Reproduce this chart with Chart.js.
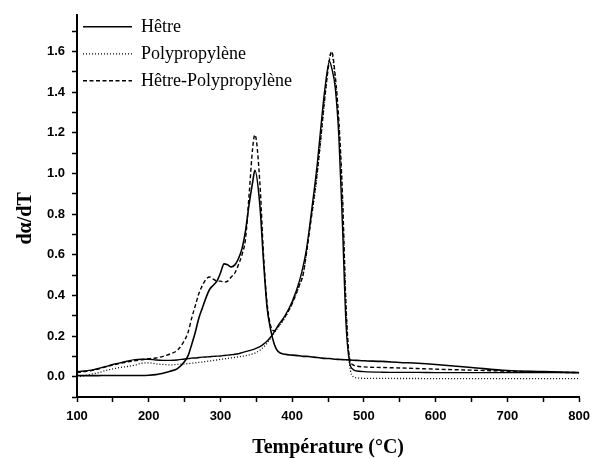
<!DOCTYPE html>
<html lang="fr">
<head>
<meta charset="utf-8">
<title>dα/dT</title>
<script src="https://cdn.jsdelivr.net/npm/chart.js@4.4.1/dist/chart.umd.min.js"></script>
<style>
  html, body { margin: 0; padding: 0; background: #fff; }
  #cadre { width: 597px; height: 458px; position: relative; }
</style>
</head>
<body>
<div id="cadre"><canvas id="mon-graphique"></canvas></div>
<script>
// Températures (°C)
const temperatures = [
  100, 110, 120, 130, 140, 150, 160, 170, 180, 190,
  200, 210, 220, 230, 240, 250, 255, 260, 265, 270,
  275, 280, 285, 290, 295, 300, 305, 310, 315, 320,
  325, 330, 335, 340, 345, 348, 355, 360, 365, 370,
  375, 380, 390, 400, 410, 415, 420, 425, 430, 435,
  440, 445, 452, 455, 460, 465, 470, 475, 480, 485,
  490, 500, 525, 550, 575, 600, 650, 700, 750, 800
];

const hetre = [
  0.005, 0.005, 0.005, 0.005, 0.006, 0.006, 0.006, 0.006, 0.006, 0.006,
  0.007, 0.01, 0.017, 0.027, 0.04, 0.075, 0.105, 0.16, 0.22, 0.29,
  0.34, 0.39, 0.43, 0.45, 0.47, 0.51, 0.555, 0.55, 0.54, 0.55,
  0.58, 0.63, 0.72, 0.85, 0.96, 1.015, 0.84, 0.57, 0.34, 0.23,
  0.16, 0.125, 0.11, 0.106, 0.103, 0.1, 0.1, 0.098, 0.096, 0.094,
  0.092, 0.09, 0.089, 0.088, 0.086, 0.085, 0.084, 0.083, 0.082, 0.081,
  0.08, 0.078, 0.075, 0.07, 0.066, 0.06, 0.045, 0.03, 0.025, 0.02
];

const polypropylene = [
  0.0, 0.005, 0.012, 0.02, 0.03, 0.038, 0.045, 0.05, 0.056, 0.066,
  0.068, 0.063, 0.06, 0.058, 0.06, 0.063, 0.064, 0.066, 0.068, 0.07,
  0.072, 0.075, 0.077, 0.08, 0.082, 0.085, 0.087, 0.09, 0.092, 0.095,
  0.098, 0.1, 0.103, 0.107, 0.112, 0.116, 0.13, 0.145, 0.165, 0.19,
  0.215, 0.24, 0.29, 0.36, 0.45, 0.5, 0.61, 0.74, 0.86, 1.0,
  1.17, 1.35, 1.57, 1.59, 1.45, 1.23, 0.88, 0.34, 0.06, 0.0,
  -0.006, -0.008, -0.008, -0.009, -0.009, -0.01, -0.01, -0.01, -0.01, -0.01
];

const hetrePolypropylene = [
  0.02, 0.025, 0.03, 0.038, 0.048, 0.057, 0.065, 0.072, 0.078, 0.083,
  0.088, 0.092, 0.1, 0.112, 0.13, 0.18, 0.22, 0.29, 0.35, 0.41,
  0.45, 0.48, 0.49, 0.48, 0.47, 0.47, 0.465, 0.47, 0.49, 0.51,
  0.55, 0.6, 0.68, 0.9, 1.13, 1.19, 0.95, 0.6, 0.36, 0.25,
  0.225, 0.245, 0.295, 0.36, 0.45, 0.5, 0.61, 0.74, 0.87, 1.01,
  1.18, 1.36, 1.56, 1.6, 1.48, 1.26, 0.9, 0.35, 0.09, 0.058,
  0.052, 0.048, 0.045, 0.043, 0.04, 0.037, 0.032, 0.027, 0.022, 0.02
];

// courbe continue tracée sur la figure mais absente de la légende
const courbeHorsLegende = [
  0.025, 0.028, 0.032, 0.04, 0.05, 0.06, 0.068, 0.076, 0.084, 0.086,
  0.086, 0.082, 0.08, 0.08, 0.082, 0.087, 0.089, 0.091, 0.092, 0.094,
  0.096, 0.097, 0.098, 0.1, 0.101, 0.102, 0.104, 0.106, 0.108, 0.11,
  0.113, 0.118, 0.123, 0.128, 0.133, 0.137, 0.148, 0.16, 0.175, 0.195,
  0.22, 0.25, 0.3, 0.37, 0.47, 0.54, 0.63, 0.76, 0.9, 1.05,
  1.23, 1.4, 1.55, 1.52, 1.42, 1.18, 0.75, 0.26, 0.07, 0.035,
  0.028, 0.025, 0.022, 0.021, 0.021, 0.02, 0.02, 0.02, 0.02, 0.02
];

const xTicks = [100, 200, 300, 400, 500, 600, 700, 800];
const yTicks = [0.0, 0.2, 0.4, 0.6, 0.8, 1.0, 1.2, 1.4, 1.6];

const points = (serie) => temperatures.map((t, i) => ({ x: t, y: serie[i] }));

const courbe = (label, serie, dash, largeur) => ({
  label: label,
  data: points(serie),
  borderColor: "#000",
  backgroundColor: "#000",
  borderWidth: largeur,
  borderDash: dash,
  pointRadius: 0,
  fill: false,
  cubicInterpolationMode: "monotone"
});

const deplacerLegende = {
  id: "deplacerLegende",
  afterLayout(chart) {
    chart.legend.left = chart.chartArea.left - 3;
    chart.legend.top = chart.chartArea.top - 6;
  }
};

let configurations = {
  type: "line",
  data: {
    datasets: [
      courbe("Hêtre", hetre, [], 1.6),
      courbe("Polypropylène", polypropylene, [1, 2], 1.3),
      courbe("Hêtre-Polypropylène", hetrePolypropylene, [4, 2.5], 1.4),
      courbe("_", courbeHorsLegende, [], 1.4)
    ]
  },
  plugins: [deplacerLegende],
  options: {
    responsive: true,
    maintainAspectRatio: false,
    animation: false,
    layout: { padding: { left: 0, top: 13, right: 11, bottom: 0 } },
    plugins: {
      tooltip: { enabled: false },
      legend: {
        position: "chartArea",
        align: "start",
        labels: {
          filter: (item) => item.datasetIndex < 3,
          generateLabels: (chart) => {
            const items = Chart.defaults.plugins.legend.labels.generateLabels(chart);
            items.forEach((it) => {
              const ds = chart.data.datasets[it.datasetIndex];
              it.lineDash = ds.borderDash;
              it.lineWidth = ds.borderWidth;
            });
            return items;
          },
          usePointStyle: true,
          pointStyle: "line",
          pointStyleWidth: 49,
          padding: 9,
          color: "#000",
          font: { family: "Liberation Serif", size: 18 }
        }
      }
    },
    scales: {
      x: {
        type: "linear",
        min: 100,
        max: 800,
        afterFit: (s) => { s.height = 61; },
        border: { display: true, color: "#000", width: 2 },
        grid: { drawOnChartArea: false, drawTicks: true, tickLength: 5, color: "#000", tickWidth: 1.5 },
        ticks: {
          stepSize: 50,
          autoSkip: false,
          maxRotation: 0,
          padding: 7,
          color: "#000",
          font: { family: "Liberation Sans", size: 13, weight: "bold" },
          callback: (v) => xTicks.includes(v) ? String(v) : ""
        },
        title: {
          display: true,
          text: "Température (°C)",
          color: "#000",
          padding: { top: 0, bottom: 0 },
          font: { family: "Liberation Serif", size: 20, weight: "bold", lineHeight: 1 }
        }
      },
      y: {
        min: -0.1,
        max: 1.78,
        afterFit: (s) => { s.width = 77; },
        border: { display: true, color: "#000", width: 2 },
        grid: { drawOnChartArea: false, drawTicks: true, tickLength: 5, color: "#000", tickWidth: 1.5 },
        ticks: {
          stepSize: 0.1,
          includeBounds: false,
          autoSkip: false,
          padding: 7,
          color: "#000",
          font: { family: "Liberation Sans", size: 13, weight: "bold" },
          callback: (v) => {
            const r = Math.round(v * 10) / 10;
            return yTicks.some((t) => Math.abs(t - r) < 1e-6) ? r.toFixed(1) : "";
          }
        },
        title: {
          display: true,
          text: "dα/dT     ",
          color: "#000",
          padding: { top: 14, bottom: 0 },
          font: { family: "Liberation Serif", size: 20, weight: "bold" }
        }
      }
    }
  }
};

const contexte = document.querySelector("#mon-graphique").getContext("2d");
new Chart(contexte, configurations);
</script>
</body>
</html>
